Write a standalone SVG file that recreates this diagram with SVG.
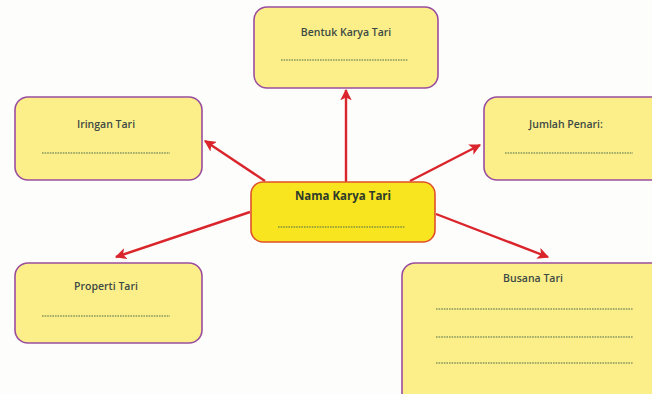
<svg xmlns="http://www.w3.org/2000/svg" width="652" height="394" viewBox="0 0 652 394">
<defs>
<marker id="ah" viewBox="0 0 10 10" refX="9" refY="5" markerWidth="4.8" markerHeight="4.8" orient="auto" markerUnits="strokeWidth">
<path d="M0,0 L10,5 L0,10 L2.5,5 z" fill="#d9252b"/>
</marker>
<style>
.box{fill:#fcef8a;stroke:#9a4d9e;stroke-width:1.6}
.main{fill:#f8e51f;stroke:#e0502c;stroke-width:1.6}
.lbl{font-family:"Open Sans","Noto Sans",sans-serif;font-size:10.5px;font-weight:600;fill:#3c4a44;text-anchor:middle}
.title{font-family:"Open Sans","Noto Sans",sans-serif;font-size:11.5px;font-weight:bold;fill:#2e3a2a;text-anchor:middle}
.dot{stroke:#4a6a4a;stroke-width:1;stroke-dasharray:1.6 1}
.arr{stroke:#d9252b;stroke-width:2.4;fill:none;marker-end:url(#ah)}
</style>
</defs>
<rect width="652" height="394" fill="#fdfdfb"/>
<g id="connectors">
<line class="arr" x1="346" y1="182" x2="346" y2="90"/>
<line class="arr" x1="265" y1="181" x2="205" y2="141"/>
<line class="arr" x1="410" y1="181" x2="480" y2="145"/>
<line class="arr" x1="250" y1="212" x2="116" y2="257"/>
<line class="arr" x1="436" y1="214" x2="548" y2="257"/>
</g>
<g id="bentuk">
<rect class="box" x="254" y="7" width="184" height="81" rx="13"/>
<text class="lbl" x="346" y="36">Bentuk Karya Tari</text>
<line class="dot" x1="281" y1="60" x2="408" y2="60"/>
</g>
<g id="iringan">
<rect class="box" x="15" y="97" width="187" height="83" rx="13"/>
<text class="lbl" x="106" y="128">Iringan Tari</text>
<line class="dot" x1="42" y1="153" x2="170" y2="153"/>
</g>
<g id="jumlah">
<rect class="box" x="484" y="97" width="182" height="83" rx="13"/>
<text class="lbl" x="566" y="128">Jumlah Penari:</text>
<line class="dot" x1="505" y1="153" x2="633" y2="153"/>
</g>
<g id="nama">
<rect class="main" x="251" y="182" width="184" height="60" rx="12"/>
<text class="title" x="343" y="200">Nama Karya Tari</text>
<line class="dot" x1="278" y1="227" x2="405" y2="227"/>
</g>
<g id="properti">
<rect class="box" x="15" y="263" width="187" height="80" rx="13"/>
<text class="lbl" x="106" y="290">Properti Tari</text>
<line class="dot" x1="42" y1="316" x2="170" y2="316"/>
</g>
<g id="busana">
<rect class="box" x="402" y="263" width="270" height="150" rx="13"/>
<text class="lbl" x="533" y="282">Busana Tari</text>
<line class="dot" x1="436" y1="309" x2="633" y2="309"/>
<line class="dot" x1="436" y1="337" x2="633" y2="337"/>
<line class="dot" x1="436" y1="363" x2="633" y2="363"/>
</g>
</svg>
